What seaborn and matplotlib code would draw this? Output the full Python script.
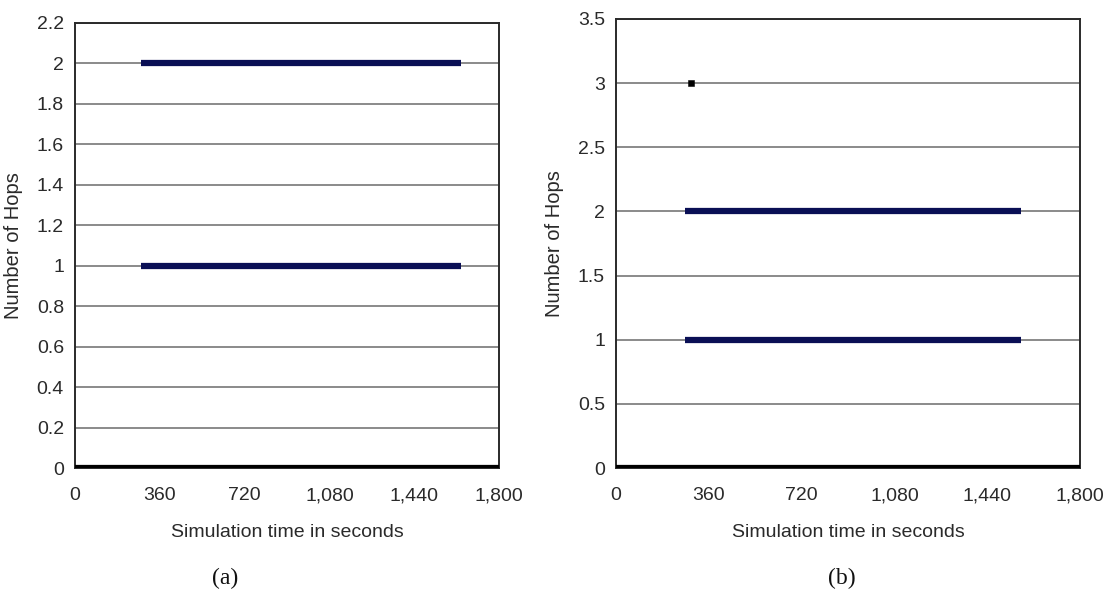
import matplotlib
matplotlib.use("Agg")
import matplotlib.pyplot as plt
import matplotlib.ticker as mticker
import numpy as np
import pandas as pd
import seaborn as sns

# Hop-count segments: (level, start time, end time) for each run
hops_a = [0, 1, 2]
start_a = [0, 280, 280]
end_a = [1800, 1640, 1640]

hops_b = [0, 1, 2]
start_b = [0, 268, 268]
end_b = [1800, 1571, 1571]
point_b_time = [291]
point_b_hops = [3]

x_ticks = [0, 360, 720, 1080, 1440, 1800]
y_ticks_a = [0, 0.2, 0.4, 0.6, 0.8, 1, 1.2, 1.4, 1.6, 1.8, 2, 2.2]
y_ticks_b = [0, 0.5, 1, 1.5, 2, 2.5, 3, 3.5]
captions = ["(a)", "(b)"]

sns.set_theme(style="white")
plt.rcParams["font.family"] = ["Liberation Sans Narrow", "Liberation Sans", "DejaVu Sans"]

NAVY = "#0a0f55"
ZERO = "#000000"
TEXT = "#2a2a2a"

fig = plt.figure(figsize=(11.06, 5.94), dpi=100)
ax_a = fig.add_axes([0.0678, 0.2121, 0.3834, 0.7492])
ax_b = fig.add_axes([0.5570, 0.2121, 0.4195, 0.7560])


def segments_frame(levels, starts, ends):
    rows = []
    for i, (lvl, s, e) in enumerate(zip(levels, starts, ends)):
        rows.append({"seg": i, "time": s, "hops": lvl})
        rows.append({"seg": i, "time": e, "hops": lvl})
    return pd.DataFrame(rows)


def draw_panel(ax, levels, starts, ends, yticks, ymax):
    df = segments_frame(levels, starts, ends)
    for seg, grp in df.groupby("seg"):
        lvl = grp["hops"].iloc[0]
        color = ZERO if lvl == 0 else NAVY
        sns.lineplot(data=grp, x="time", y="hops", ax=ax, color=color,
                     linewidth=4.5, solid_capstyle="butt", zorder=3,
                     estimator=None, legend=False)
    ax.set_xlim(0, 1800)
    ax.set_ylim(0, ymax)
    ax.set_xticks(x_ticks)
    ax.set_yticks(yticks)
    ax.xaxis.set_major_formatter(mticker.FuncFormatter(lambda v, p: f"{v:,.0f}"))
    ax.yaxis.set_major_formatter(mticker.FuncFormatter(lambda v, p: f"{v:g}"))
    ax.grid(axis="y", color="#8a8a8a", linewidth=1.4, zorder=0)
    ax.grid(axis="x", visible=False)
    ax.set_axisbelow(True)
    for sp in ax.spines.values():
        sp.set_color("#2a2a2a")
        sp.set_linewidth(1.4)
    ax.tick_params(axis="both", which="major", direction="out", length=5,
                   width=1.2, color="#555555", labelsize=14,
                   labelcolor=TEXT, pad=3)
    ax.tick_params(axis="x", pad=9)
    ax.set_xlabel("Simulation time in seconds", fontsize=14, color=TEXT,
                  labelpad=14)
    ax.set_ylabel("Number of Hops", fontsize=14.5, color=TEXT, labelpad=10)


draw_panel(ax_a, hops_a, start_a, end_a, y_ticks_a, 2.2)
draw_panel(ax_b, hops_b, start_b, end_b, y_ticks_b, 3.5)

sns.scatterplot(x=point_b_time, y=point_b_hops, ax=ax_b, marker="s", s=22,
                color="#000000", edgecolor="#000000", zorder=4, legend=False)

fig.text(0.2035, 0.027, captions[0], ha="center", va="center",
         fontsize=17, family=["Liberation Serif", "DejaVu Serif"], color="#111111")
fig.text(0.7615, 0.027, captions[1], ha="center", va="center",
         fontsize=17, family=["Liberation Serif", "DejaVu Serif"], color="#111111")

fig.savefig("out.png", dpi=100, facecolor="white")
